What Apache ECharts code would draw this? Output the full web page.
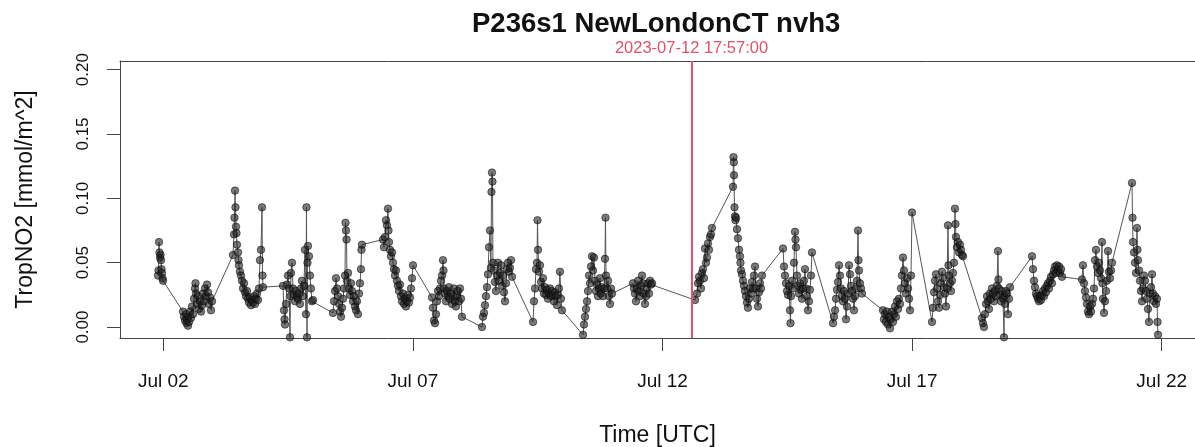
<!DOCTYPE html>
<html>
<head>
<meta charset="utf-8">
<title>P236s1 NewLondonCT nvh3</title>
<script src="https://cdn.jsdelivr.net/npm/echarts@6/dist/echarts.min.js"></script>
<style>
  html, body { margin: 0; padding: 0; background: #fff; }
  #chart { width: 1195px; height: 447px; }
</style>
</head>
<body>
<div id="chart"></div>
<script>
// Observation times as fractional day of July 2023 (local time, EDT = UTC-4)
const obsDay = [
  1.894,1.904,1.914,1.924,1.934,1.944,1.954,1.964,1.974,1.984,1.994,
  2.395,2.415,2.435,2.455,2.465,2.475,2.495,2.505,2.515,2.535,2.555,2.575,2.595,2.615,2.635,2.645,2.655,2.675,2.695,2.715,2.735,2.755,2.775,2.795,2.815,2.835,2.856,2.876,2.896,2.916,2.936,2.956,2.976,
  3.396,3.416,3.426,3.436,3.446,3.456,3.466,3.476,3.496,3.506,3.516,3.536,3.556,3.576,3.597,3.617,3.637,3.657,3.677,3.697,3.717,3.737,3.757,3.777,3.797,3.817,3.837,3.857,3.877,3.897,3.917,3.937,3.957,3.977,3.987,3.997,
  4.398,4.418,4.428,4.438,4.458,4.478,4.498,4.518,4.538,4.548,4.558,4.578,4.598,4.618,4.638,4.658,4.678,4.698,4.718,4.738,4.758,4.778,4.798,4.818,4.838,4.858,4.868,4.878,4.888,4.898,4.918,4.938,4.958,4.978,4.999,
  5.400,5.420,5.440,5.460,5.480,5.500,5.520,5.540,5.560,5.580,5.600,5.620,5.640,5.650,5.660,5.670,5.680,5.700,5.720,5.740,5.760,5.780,5.800,5.820,5.840,5.860,5.880,5.900,5.920,5.940,5.960,5.970,5.980,
  6.401,6.421,6.441,6.461,6.481,6.501,6.511,6.521,6.541,6.561,6.581,6.601,6.621,6.641,6.661,6.681,6.701,6.721,6.741,6.761,6.781,6.801,6.821,6.841,6.861,6.881,6.902,6.922,6.942,6.962,6.982,7.002,
  7.383,7.403,7.423,7.443,7.463,7.483,7.503,7.523,7.543,7.563,7.583,7.603,7.613,7.623,7.643,7.663,7.683,7.703,7.723,7.743,7.763,7.783,7.803,7.823,7.843,7.863,7.883,7.903,7.923,7.943,7.963,7.983,
  8.384,8.404,8.424,8.444,8.464,8.484,8.504,8.524,8.544,8.564,8.574,8.584,8.594,8.604,8.624,8.644,8.664,8.684,8.704,8.724,8.745,8.765,8.785,8.805,8.825,8.845,8.865,8.885,8.905,8.925,8.945,8.965,8.985,
  9.406,9.426,9.446,9.466,9.486,9.496,9.506,9.526,9.546,9.566,9.586,9.606,9.626,9.646,9.666,9.686,9.706,9.726,9.746,9.766,9.786,9.806,9.826,9.846,9.866,9.886,9.906,9.926,9.946,9.966,9.986,
  10.408,10.428,10.448,10.468,10.488,10.508,10.528,10.548,10.568,10.588,10.608,10.628,10.648,10.668,10.688,10.708,10.728,10.748,10.768,10.788,10.808,10.828,10.848,10.858,10.868,10.888,10.908,10.928,10.948,10.968,10.988,
  11.409,11.429,11.449,11.469,11.489,11.509,11.529,11.549,11.569,11.589,11.609,11.629,11.649,11.669,11.689,11.710,11.730,11.750,11.770,11.790,
  12.651,12.691,12.711,12.731,12.751,12.771,12.791,12.811,12.831,12.851,12.871,12.891,12.911,12.931,12.951,12.971,12.991,
  13.412,13.422,13.428,13.432,13.442,13.452,13.462,13.472,13.492,13.512,13.532,13.552,13.562,13.572,13.592,13.612,13.632,13.652,13.672,13.692,13.712,13.732,13.752,13.772,13.792,13.813,13.833,13.853,13.873,13.893,13.913,13.933,13.953,13.973,13.993,
  14.414,14.434,14.454,14.474,14.494,14.514,14.534,14.554,14.564,14.574,14.594,14.614,14.634,14.654,14.664,14.674,14.694,14.714,14.734,14.754,14.774,14.794,14.814,14.834,14.854,14.874,14.894,14.914,14.934,14.954,14.974,14.994,
  15.416,15.436,15.456,15.476,15.496,15.516,15.536,15.556,15.576,15.596,15.616,15.636,15.656,15.676,15.696,15.716,15.736,15.756,15.776,15.796,15.816,15.836,15.856,15.876,15.896,15.916,15.926,15.936,15.956,15.976,15.996,
  16.417,16.437,16.457,16.477,16.497,16.517,16.537,16.557,16.577,16.597,16.617,16.637,16.657,16.677,16.697,16.717,16.737,16.757,16.777,16.797,16.817,16.837,16.857,16.877,16.897,16.918,16.938,16.958,16.978,16.998,
  17.399,17.419,17.439,17.459,17.479,17.499,17.519,17.539,17.559,17.579,17.599,17.619,17.639,17.659,17.679,17.699,17.719,17.729,17.739,17.759,17.779,17.799,17.819,17.839,17.859,17.869,17.879,17.899,17.919,17.939,17.959,17.979,17.999,18.020,
  18.400,18.420,18.440,18.460,18.480,18.500,18.520,18.540,18.560,18.580,18.600,18.620,18.640,18.660,18.680,18.700,18.720,18.730,18.740,18.761,18.781,18.801,18.821,18.841,18.851,18.861,18.881,18.901,18.921,18.941,18.961,
  19.402,19.422,19.442,19.462,19.482,19.502,19.522,19.542,19.562,19.582,19.602,19.622,19.642,19.662,19.682,19.702,19.722,19.742,19.762,19.782,19.802,19.823,19.843,19.863,19.883,19.903,19.923,19.943,19.963,19.983,20.003,
  20.403,20.423,20.443,20.463,20.483,20.503,20.523,20.543,20.564,20.584,20.604,20.624,20.644,20.664,20.684,20.704,20.724,20.744,20.764,20.784,20.804,20.814,20.824,20.844,20.864,20.884,20.904,20.924,20.944,20.964,20.984,21.004,
  21.405,21.415,21.425,21.445,21.465,21.485,21.505,21.515,21.525,21.545,21.565,21.585,21.605,21.625,21.645,21.665,21.685,21.705,21.725,21.745,21.766,21.786,21.806,21.826,21.846,21.866,21.886,21.906,21.916,21.926
];

// Tropospheric NO2 column, mmol/m^2
const no2 = [
  0.040,0.044,0.066,0.058,0.054,0.056,0.052,0.045,0.042,0.038,0.036,
  0.012,0.008,0.005,0.010,0.003,0.006,0.001,0.008,0.004,0.012,0.007,0.016,0.010,0.022,0.030,0.034,0.026,0.018,0.024,0.014,0.020,0.012,0.017,0.026,0.020,0.030,0.024,0.033,0.027,0.018,0.023,0.013,0.020,
  0.056,0.072,0.085,0.106,0.093,0.078,0.073,0.064,0.058,0.052,0.048,0.043,0.040,0.036,0.030,0.034,0.027,0.024,0.028,0.022,0.019,0.023,0.017,0.021,0.019,0.024,0.018,0.022,0.026,0.021,0.030,0.052,0.060,0.093,0.040,0.031,
  0.032,0.013,0.006,0.002,0.018,0.033,0.040,0.030,-0.008,0.024,0.042,0.050,0.030,0.025,0.020,0.028,0.024,0.022,0.026,0.018,0.030,0.036,0.024,0.032,0.060,0.010,0.093,-0.008,0.050,0.063,0.055,0.040,0.030,0.020,0.021,
  0.011,0.020,0.028,0.038,0.030,0.024,0.018,0.012,0.008,0.015,0.022,0.030,0.040,0.081,0.075,0.068,0.036,0.042,0.030,0.025,0.034,0.028,0.020,0.024,0.016,0.013,0.020,0.010,0.026,0.034,0.045,0.060,0.064,
  0.068,0.062,0.070,0.083,0.079,0.092,0.075,0.066,0.060,0.055,0.058,0.050,0.045,0.040,0.044,0.036,0.032,0.028,0.033,0.024,0.020,0.026,0.018,0.022,0.016,0.020,0.025,0.019,0.023,0.030,0.038,0.048,
  0.023,0.015,0.005,0.003,0.010,0.020,0.028,0.024,0.030,0.036,0.040,0.052,0.044,0.030,0.026,0.020,0.028,0.024,0.031,0.022,0.026,0.018,0.024,0.030,0.020,0.016,0.024,0.028,0.020,0.030,0.022,0.008,
  0.000,0.008,0.011,0.017,0.024,0.031,0.041,0.062,0.075,0.046,0.105,0.120,0.113,0.050,0.044,0.035,0.028,0.040,0.050,0.036,0.042,0.048,0.032,0.040,0.027,0.020,0.034,0.045,0.050,0.043,0.046,0.052,0.039,
  0.004,0.020,0.030,0.045,0.050,0.083,0.060,0.043,0.048,0.035,0.030,0.038,0.026,0.031,0.025,0.029,0.022,0.026,0.030,0.024,0.028,0.025,0.020,0.027,0.024,0.017,0.025,0.030,0.043,0.022,0.013,
  -0.006,0.002,0.008,0.014,0.020,0.028,0.040,0.034,0.047,0.055,0.044,0.054,0.036,0.028,0.033,0.024,0.030,0.038,0.026,0.031,0.024,0.030,0.053,0.085,0.040,0.030,0.036,0.024,0.018,0.030,0.026,
  0.034,0.030,0.026,0.020,0.030,0.036,0.028,0.024,0.032,0.040,0.034,0.026,0.018,0.024,0.030,0.034,0.026,0.036,0.033,0.034,
  0.021,0.026,0.034,0.039,0.036,0.030,0.042,0.045,0.038,0.061,0.050,0.054,0.065,0.060,0.070,0.072,0.077,
  0.109,0.132,0.128,0.118,0.093,0.086,0.083,0.085,0.076,0.069,0.060,0.055,0.050,0.044,0.041,0.036,0.032,0.028,0.024,0.019,0.015,0.022,0.030,0.026,0.035,0.030,0.040,0.047,0.030,0.022,0.016,0.027,0.034,0.030,0.040,
  0.061,0.047,0.040,0.034,0.028,0.025,0.032,0.013,0.003,0.024,0.036,0.030,0.050,0.074,0.068,0.062,0.040,0.032,0.026,0.034,0.029,0.022,0.030,0.036,0.045,0.030,0.024,0.013,0.020,0.029,0.040,0.058,
  0.003,0.008,0.013,0.022,0.029,0.035,0.048,0.040,0.030,0.024,0.020,0.028,0.022,0.006,0.016,0.026,0.048,0.041,0.032,0.028,0.022,0.013,0.024,0.030,0.036,0.075,0.052,0.044,0.034,0.030,0.026,
  0.013,0.006,0.010,0.004,0.012,0.002,0.008,-0.001,0.006,0.012,0.004,0.010,0.016,0.008,0.020,0.014,0.022,0.018,0.030,0.040,0.054,0.044,0.034,0.026,0.038,0.030,0.022,0.013,0.040,0.089,
  0.004,0.015,0.027,0.036,0.041,0.030,0.020,0.015,0.025,0.034,0.043,0.038,0.031,0.026,0.016,0.030,0.079,0.048,0.040,0.034,0.028,0.036,0.042,0.050,0.092,0.080,0.070,0.062,0.066,0.058,0.064,0.060,0.056,0.055,
  0.007,0.003,0.000,0.010,0.018,0.024,0.020,0.014,0.026,0.022,0.030,0.026,0.020,0.028,0.024,0.032,0.059,0.037,0.030,0.025,0.020,0.028,0.022,-0.008,0.024,0.018,0.028,0.026,0.010,0.022,0.031,
  0.055,0.045,0.036,0.031,0.026,0.024,0.022,0.020,0.024,0.021,0.025,0.028,0.024,0.030,0.027,0.032,0.034,0.030,0.036,0.039,0.034,0.041,0.044,0.047,0.042,0.048,0.044,0.047,0.042,0.045,0.039,
  0.037,0.048,0.034,0.028,0.023,0.018,0.012,0.010,0.016,0.012,0.018,0.022,0.030,0.052,0.060,0.047,0.042,0.050,0.044,0.038,0.066,0.034,0.022,0.011,0.020,0.028,0.036,0.059,0.043,0.038,0.044,0.050,
  0.112,0.085,0.066,0.058,0.050,0.042,0.077,0.060,0.052,0.044,0.036,0.028,0.020,0.030,0.040,0.036,0.028,0.022,0.014,0.004,0.026,0.031,0.041,0.026,0.020,0.024,0.018,0.022,0.004,-0.006
];

// Axis ticks (days of July, local midnight) and labels
const tickDays = [2, 7, 12, 17, 22];
const tickLabels = ['Jul 02', 'Jul 07', 'Jul 12', 'Jul 17', 'Jul 22'];
const yTicks = [0, 0.05, 0.10, 0.15, 0.20];

// Event marker (UTC)
const eventLabel = '2023-07-12 17:57:00';
const eventUTC = [2023, 6, 12, 17, 57];

const DAY_MS = 86400000;
const LOCAL_OFFSET_H = 4; // EDT
const toMs = d => Date.UTC(2023, 6, 1, LOCAL_OFFSET_H) + (d - 1) * DAY_MS;

const n = Math.min(obsDay.length, no2.length);
const points = [];
for (let i = 0; i < n; i++) points.push([toMs(obsDay[i]), no2[i]]);

const tickMs = tickDays.map(toMs);
const eventMs = Date.UTC(eventUTC[0], eventUTC[1], eventUTC[2], eventUTC[3], eventUTC[4]);

// visible time window (the plot frame runs off the right edge)
const X_MIN = toMs(1.1326);
const X_MAX = toMs(22.667);

const FONT = '"Liberation Sans", Arial, Helvetica, sans-serif';
const INK = '#111';
const FRAME = '#444';

const chart = echarts.init(document.getElementById('chart'), null, { renderer: 'canvas' });

chart.setOption({
  animation: false,
  backgroundColor: '#fff',
  textStyle: { fontFamily: FONT },
  graphic: [{
    type: 'text',
    left: 472,
    top: 10,
    style: {
      text: 'P236s1 NewLondonCT nvh3',
      font: 'bold 27.5px ' + FONT,
      fill: INK
    }
  }],
  grid: {
    left: 120,
    top: 61,
    right: 0,
    height: 277,
    show: false,
    containLabel: false,
    outerBoundsMode: 'none'
  },
  xAxis: [{
    type: 'value',
    position: 'bottom',
    min: X_MIN,
    max: X_MAX,
    name: 'Time [UTC]',
    nameLocation: 'middle',
    nameGap: 86,
    nameTextStyle: { fontSize: 23, color: INK, fontFamily: FONT },
    axisLine: { show: true, onZero: false, lineStyle: { color: FRAME, width: 1 } },
    splitLine: { show: false },
    axisTick: {
      show: true,
      length: 13,
      customValues: tickMs,
      lineStyle: { color: FRAME, width: 1 }
    },
    axisLabel: {
      customValues: tickMs,
      margin: 34,
      fontSize: 19,
      color: INK,
      fontFamily: FONT,
      formatter: v => {
        const i = tickMs.findIndex(t => Math.abs(t - v) < 1000);
        return i >= 0 ? tickLabels[i] : '';
      }
    }
  }, {
    // top edge of the plot frame
    type: 'value',
    position: 'top',
    min: X_MIN,
    max: X_MAX,
    axisLine: { show: true, onZero: false, lineStyle: { color: FRAME, width: 1 } },
    axisTick: { show: false },
    axisLabel: { show: false },
    splitLine: { show: false }
  }],
  yAxis: {
    type: 'value',
    min: -0.0085,
    max: 0.2067,
    name: 'TropNO2 [mmol/m^2]',
    nameLocation: 'middle',
    nameGap: 83,
    nameTextStyle: { fontSize: 23, color: INK, fontFamily: FONT },
    axisLine: { show: true, onZero: false, lineStyle: { color: FRAME, width: 1 } },
    splitLine: { show: false },
    axisTick: {
      show: true,
      length: 13,
      customValues: yTicks,
      lineStyle: { color: FRAME, width: 1 }
    },
    axisLabel: {
      customValues: yTicks,
      rotate: 90,
      margin: 28,
      fontSize: 17,
      color: INK,
      fontFamily: FONT,
      formatter: v => v.toFixed(2)
    }
  },
  series: [{
    type: 'line',
    xAxisIndex: 0,
    data: points,
    showSymbol: true,
    showAllSymbol: true,
    symbol: 'circle',
    symbolSize: 7.5,
    clip: true,
    lineStyle: { color: '#555', width: 1 },
    itemStyle: {
      color: 'rgba(35,35,35,0.6)',
      borderColor: 'rgba(0,0,0,0.5)',
      borderWidth: 1
    },
    emphasis: { disabled: true },
    markLine: {
      silent: true,
      symbol: ['none', 'none'],
      animation: false,
      lineStyle: { color: '#DF536B', width: 2, type: 'solid' },
      label: {
        show: true,
        position: 'end',
        distance: 4,
        formatter: eventLabel,
        color: '#DF536B',
        fontSize: 16.5,
        fontFamily: FONT
      },
      data: [{ xAxis: eventMs }]
    }
  }]
});
</script>
</body>
</html>
